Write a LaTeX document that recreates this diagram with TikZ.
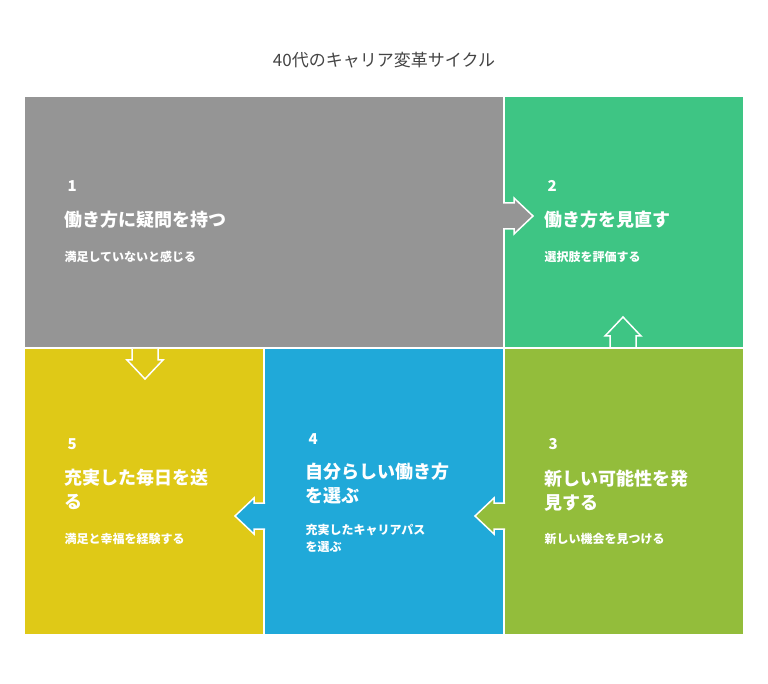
\documentclass[tikz,border=0pt]{standalone}
\usepackage{fontspec}
\setmainfont{Noto Sans CJK JP}
\definecolor{cgray}{HTML}{959595}
\definecolor{cgreen}{HTML}{3EC584}
\definecolor{colive}{HTML}{93BD3B}
\definecolor{cblue}{HTML}{20A9D9}
\definecolor{cyellow}{HTML}{DFC917}
\definecolor{ctitle}{HTML}{444444}
% notched arrow leaving a box: #1 = origin, #2 = rotation, #3 = fill colour
\newcommand{\boxarrow}[3]{%
  \begin{scope}[shift={#1},rotate=#2]
    \fill[#3] (0,-13) -- (11,-13) -- (11,-18) -- (30,0) -- (11,18) -- (11,13) -- (0,13) -- cycle;
    \draw[white,line width=1.5pt,line join=miter] (0,-13) -- (11,-13) -- (11,-18) -- (30,0) -- (11,18) -- (11,13) -- (0,13);
  \end{scope}}
\begin{document}
\begin{tikzpicture}[x=1pt,y=-1pt,
  panel/.style={inner sep=0pt},
  num/.style={anchor=west,text=white,font=\bfseries\fontsize{15}{17}\selectfont},
  head/.style={anchor=north west,text=white,align=left,font=\bfseries\fontsize{18}{24}\selectfont},
  sub/.style={anchor=north west,text=white,align=left,font=\bfseries\fontsize{12}{17}\selectfont}]
\useasboundingbox (0,0) rectangle (768,684);
\node[text=ctitle,font=\fontsize{17}{20}\selectfont] (title) at (384,60) {40代のキャリア変革サイクル};
% panels
\fill[cgray] (25,97) rectangle (503,347);
\fill[cgreen] (505,97) rectangle (743,347);
\fill[cyellow] (25,349) rectangle (263,634);
\fill[cblue] (265,349) rectangle (503,634);
\fill[colive] (505,349) rectangle (743,634);
% arrows
\boxarrow{(503,216)}{0}{cgray}
\boxarrow{(623,347)}{90}{cgreen}
\boxarrow{(505,516)}{180}{colive}
\boxarrow{(265,516)}{180}{cblue}
\boxarrow{(145,349)}{-90}{cyellow}
% texts
\node[num] (n1) at (64,186) {1};
\node[head] (h1) at (61,207) {働き方に疑問を持つ};
\node[sub] (s1) at (61,248) {満足していないと感じる};
\node[num] (n2) at (544,186) {2};
\node[head] (h2) at (541,207) {働き方を見直す};
\node[sub] (s2) at (541,248) {選択肢を評価する};
\node[num] (n3) at (545,444) {3};
\node[head] (h3) at (541,466) {新しい可能性を発\\見する};
\node[sub] (s3) at (541,530) {新しい機会を見つける};
\node[num] (n4) at (305,439) {4};
\node[head] (h4) at (302,459) {自分らしい働き方\\を選ぶ};
\node[sub] (s4) at (302,521) {充実したキャリアパス\\を選ぶ};
\node[num] (n5) at (64,444) {5};
\node[head] (h5) at (61,466) {充実した毎日を送\\る};
\node[sub] (s5) at (61,530) {満足と幸福を経験する};
\end{tikzpicture}
\end{document}
